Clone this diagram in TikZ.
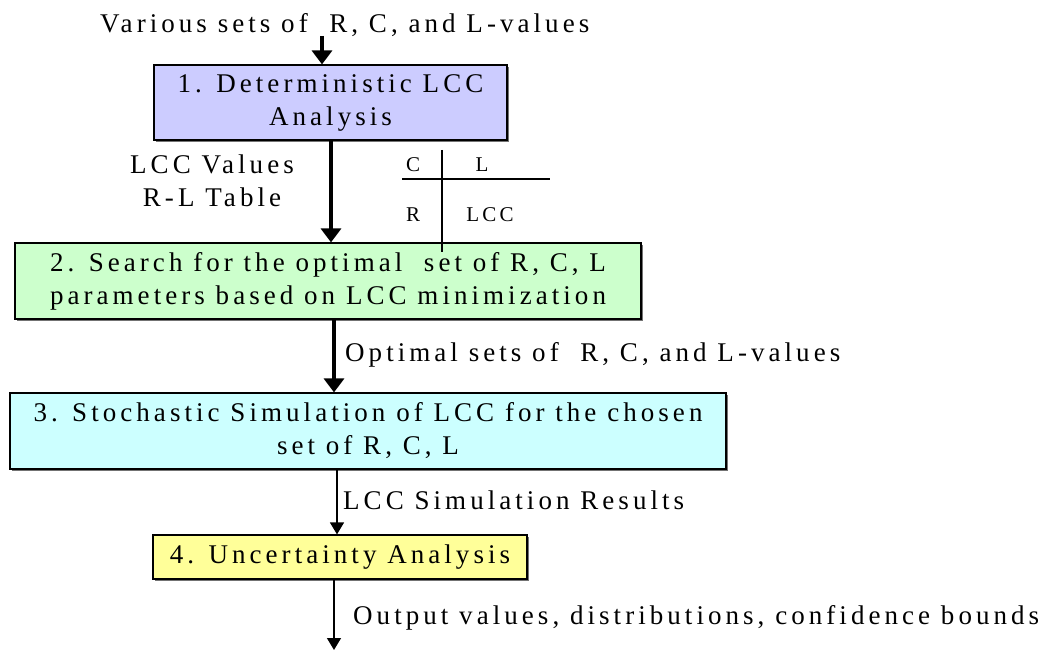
\documentclass[tikz,border=0pt]{standalone}
\usepackage{fontspec}
\setmainfont{Liberation Serif}[LetterSpace=15]
\usetikzlibrary{arrows.meta,shadows}
\definecolor{boxblue}{HTML}{CCCCFF}
\definecolor{boxgreen}{HTML}{CCFFCC}
\definecolor{boxcyan}{HTML}{CCFFFF}
\definecolor{boxyellow}{HTML}{FFFF99}
\newcommand\flowfont{\fontsize{27pt}{33pt}\selectfont}
\newcommand\tablefont{\fontsize{21pt}{25pt}\selectfont}
\begin{document}
\begin{tikzpicture}[x=1pt,y=-1pt,
  stagebox/.style={draw=black, line width=1.2pt, inner sep=0pt, align=center,
    font=\flowfont,
    drop shadow={shadow xshift=1.8pt, shadow yshift=-1.8pt, fill=black!55, opacity=1}},
  bigarrow/.style={line width=3.6pt, -{Triangle[width=20pt,length=14pt]}},
  thinarrow/.style={line width=1.3pt, -{Triangle[width=14pt,length=12pt]}},
  flowlabel/.style={font=\flowfont, inner sep=0pt},
  celltext/.style={font=\tablefont, inner sep=0pt},
  rule/.style={line width=1.3pt}]
\useasboundingbox (0,0) rectangle (1047,652);

% process stages
\node[stagebox, fill=boxblue, minimum width=353pt, minimum height=75pt] (b1) at (330.5,102.5)
  {1. Deterministic LCC\\Analysis};
\node[stagebox, fill=boxgreen, minimum width=626pt, minimum height=76pt] (b2) at (328,281)
  {2. Search for the optimal\ \ set of R, C, L\\parameters based on LCC minimization};
\node[stagebox, fill=boxcyan, minimum width=716pt, minimum height=76pt] (b3) at (368,431)
  {3. Stochastic Simulation of LCC for the chosen\\set of R, C, L};
\node[stagebox, fill=boxyellow, minimum width=374pt, minimum height=44pt] (b4) at (340,557)
  {4. Uncertainty Analysis};

% input and output ends
\node[flowlabel, anchor=base west] (inp) at (100,33) {Various sets of\ \ R, C, and L-values};
\coordinate (inarrow) at (322,36);
\coordinate (outarrow) at (334,650);

% connectors
\draw[bigarrow] (inarrow) -- (inarrow |- b1.north);
\draw[bigarrow] ([xshift=0.5pt]b1.south) -- ([xshift=0.5pt]b1.south |- b2.north);
\draw[bigarrow] ([xshift=6pt]b2.south) -- ([xshift=6pt]b2.south |- b3.north);
\draw[thinarrow] ([xshift=-31pt]b3.south) -- ([xshift=-31pt]b3.south |- b4.north);
\draw[thinarrow] (b4.south -| outarrow) -- (outarrow);

% connector labels
\node[flowlabel, align=center] (l12) at (212,181) {LCC Values\\R-L Table};
\node[flowlabel, anchor=west] (l23) at (345,355) {Optimal sets of\ \ R, C, and L-values};
\node[flowlabel, anchor=west] (l34) at (343,500) {LCC Simulation Results};
\node[flowlabel, anchor=west] (l4o) at (353,618) {Output values, distributions, confidence bounds};

% R-L table sketch
\coordinate (tvtop) at (442,150);
\coordinate (tvbot) at (442,252);
\coordinate (thl) at (402,179);
\coordinate (thr) at (550,179);
\draw[rule] (tvtop) -- (tvbot);
\draw[rule] (thl) -- (thr);
\node[celltext] (tc) at (413,165) {C};
\node[celltext] (tl) at (482,165) {L};
\node[celltext] (tr) at (413,215) {R};
\node[celltext] (tlcc) at (490,215) {LCC};
\end{tikzpicture}
\end{document}
